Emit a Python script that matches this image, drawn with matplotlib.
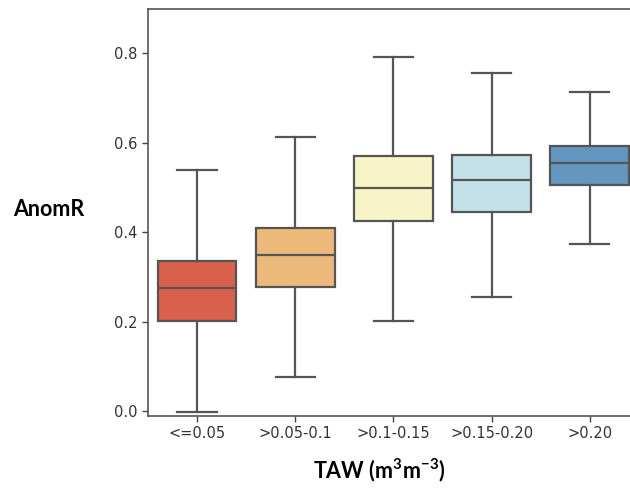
import matplotlib
matplotlib.use("Agg")
import matplotlib.pyplot as plt

plt.rcParams['font.family'] = ['DejaVu Sans']

# Box statistics (whiskers span full range, no fliers)
categories = ['<=0.05', '>0.05-0.1', '>0.1-0.15', '>0.15-0.20', '>0.20']
whisker_low = [-0.002, 0.076, 0.201, 0.255, 0.375]
q1 = [0.201, 0.277, 0.425, 0.445, 0.505]
median = [0.275, 0.349, 0.498, 0.516, 0.554]
q3 = [0.337, 0.409, 0.570, 0.572, 0.594]
whisker_high = [0.539, 0.612, 0.791, 0.755, 0.713]
colors = ['#D9604B', '#EDB97A', '#F7F5C7', '#C4E0E9', '#6497C0']

line_col = '#555555'

stats = []
for i, cat in enumerate(categories):
    stats.append({'label': cat, 'whislo': whisker_low[i], 'q1': q1[i],
                  'med': median[i], 'q3': q3[i], 'whishi': whisker_high[i],
                  'fliers': []})

fig = plt.figure(figsize=(6.3, 4.88), dpi=100)
ax = fig.add_axes([0.235, 0.1475, 0.779, 0.834])

bp = ax.bxp(stats, positions=range(len(categories)), widths=0.8,
            patch_artist=True, showfliers=False,
            boxprops=dict(edgecolor=line_col, linewidth=1.6),
            whiskerprops=dict(color=line_col, linewidth=1.6),
            capprops=dict(color=line_col, linewidth=1.6),
            medianprops=dict(color=line_col, linewidth=1.6))
for patch, c in zip(bp['boxes'], colors):
    patch.set_facecolor(c)

# caps are half the box width, like seaborn
for cap in bp['caps']:
    x = cap.get_xdata()
    mid = (x[0] + x[1]) / 2
    cap.set_xdata([mid - 0.2, mid + 0.2])

ax.set_xlim(-0.5, 4.5)
ax.set_ylim(-0.0105, 0.899)
ax.set_yticks([0.0, 0.2, 0.4, 0.6, 0.8])
ax.set_xticks(range(len(categories)))
ax.set_xticklabels(categories)

for s in ax.spines.values():
    s.set_color(line_col)
    s.set_linewidth(1.2)
ax.tick_params(colors='#444444', labelsize=10.5, length=4, width=1.0)
for lab in ax.get_xticklabels() + ax.get_yticklabels():
    lab.set_color('#333333')

fig.text(49 / 630, 1 - 210 / 488, 'AnomR', family='Lato', weight='bold',
         fontsize=15.5, ha='center', va='center')
fig.text(379 / 630, 1 - 470 / 488, 'TAW (m$^\\mathregular{3}$m$^\\mathregular{-3}$)',
         family='Lato', weight='bold', fontsize=15.5, ha='center', va='center')

fig.savefig('out.png', dpi=100)
